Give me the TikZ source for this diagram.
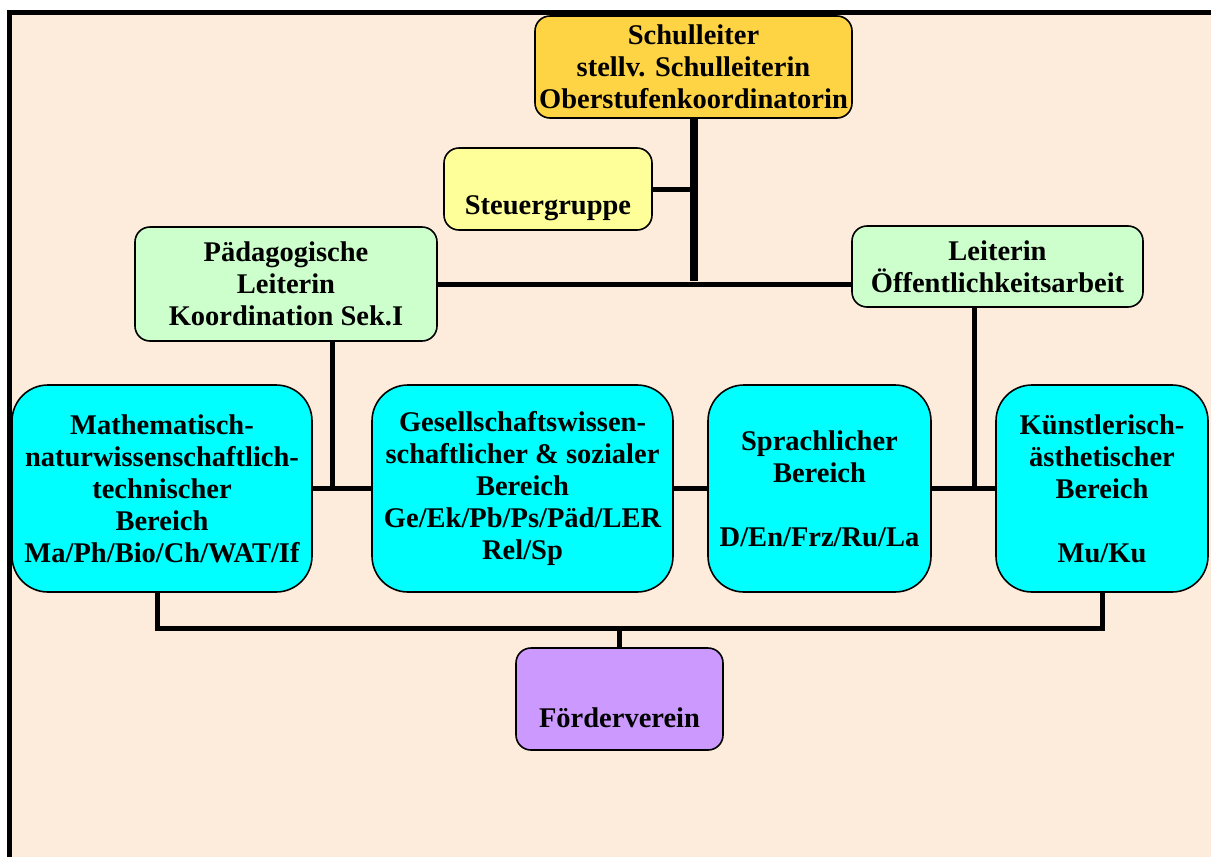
\documentclass[tikz,border=0pt]{standalone}
\usepackage{fontspec}
\setmainfont{Liberation Serif}
\usepackage{tikz}
\usetikzlibrary{positioning}

\definecolor{peach}{HTML}{FDECDB}
\definecolor{leitung}{HTML}{FFD444}
\definecolor{steuer}{HTML}{FFFF99}
\definecolor{hellgruen}{HTML}{CCFFCC}
\definecolor{tuerkis}{HTML}{00FFFF}
\definecolor{lila}{HTML}{CC99FF}

\begin{document}
\begin{tikzpicture}[x=1pt,y=-1pt,
box/.style={draw, line width=1.6pt, align=center, inner sep=0pt,
  font=\bfseries\fontsize{28.5}{32}\selectfont},
smallbox/.style={box, rounded corners=15pt},
bigbox/.style={box, rounded corners=36pt, fill=tuerkis, minimum height=207pt},
link/.style={line width=5pt},
]
\useasboundingbox (0,0) rectangle (1211,857);
% sheet with frame on left and top
\fill[peach] (9,12) rectangle (1211,857);
\draw[line width=5pt] (9,857) -- (9,12) -- (1211,12);

% leadership
\node[smallbox, fill=leitung, minimum width=317pt, minimum height=102pt] (leitung) at (693.5,67)
  {Schulleiter\\stellv. Schulleiterin\\Oberstufenkoordinatorin};
\node[smallbox, fill=steuer, minimum width=208pt, minimum height=82pt] (steuer) at (548,189)
  {\strut\\[3pt]Steuergruppe};
\node[smallbox, fill=hellgruen, minimum width=302pt, minimum height=114pt] (paed) at (286,284)
  {Pädagogische\\Leiterin\\Koordination Sek.I};
\node[smallbox, fill=hellgruen, minimum width=291pt, minimum height=81pt] (oeff) at (997.5,266.5)
  {Leiterin\\Öffentlichkeitsarbeit};

% subject areas
\node[bigbox, minimum width=300pt] (mint) at (162,488.5)
  {Mathematisch-\\naturwissenschaftlich-\\technischer\\Bereich\\Ma/Ph/Bio/Ch/WAT/If};
\node[bigbox, minimum width=301pt] (gesell) at (522.5,488.5)
  {Gesellschaftswissen-\\schaftlicher \& sozialer\\Bereich\\Ge/Ek/Pb/Ps/Päd/LER\\Rel/Sp};
\node[bigbox, minimum width=223pt] (sprach) at (819.5,488.5)
  {Sprachlicher\\Bereich\\\mbox{}\\D/En/Frz/Ru/La};
\node[bigbox, minimum width=212pt] (kunst) at (1102,488.5)
  {Künstlerisch-\\ästhetischer\\Bereich\\\mbox{}\\Mu/Ku};

% support
\node[smallbox, fill=lila, minimum width=207pt, minimum height=102pt] (foerder) at (619.5,699)
  {\strut\\[3pt]Förderverein};

% connectors
\coordinate (knoten) at (leitung.south |- paed.east);
\draw[line width=8pt] (leitung.south) -- ([yshift=3pt]knoten);
\draw[link] (steuer.east) -- (steuer.east -| leitung.south);
\draw[link] (paed.east) -- (paed.east -| oeff.west);
\draw[link] ([xshift=46pt]paed.south) -- ([xshift=46pt]paed.south |- mint.east);
\draw[link] (mint.east) -- (gesell.west);
\draw[link] (gesell.east) -- (sprach.west);
\draw[link] (sprach.east) -- (kunst.west);
\draw[link] ([xshift=-23.5pt]oeff.south) -- ([xshift=-23.5pt]oeff.south |- kunst.west);
\coordinate (unten) at (0,628);
\draw[link] ([xshift=-5pt]mint.south) -- ([xshift=-5pt]mint.south |- unten)
  -- (kunst.south |- unten) -- (kunst.south);
\draw[link] (foerder.north |- unten) -- (foerder.north);
\end{tikzpicture}
\end{document}
